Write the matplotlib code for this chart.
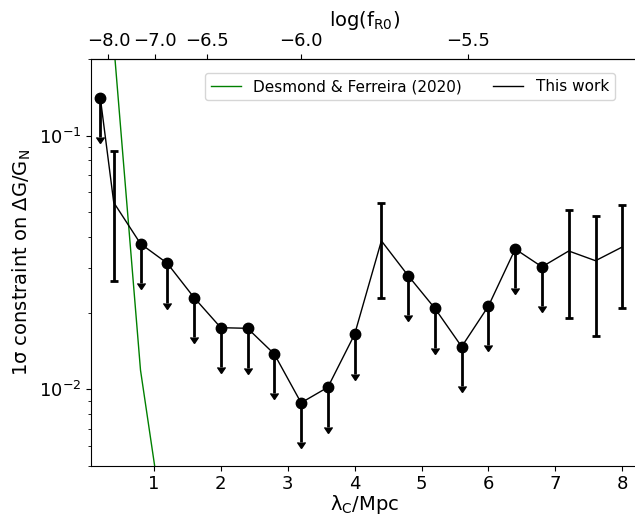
import numpy as np
import matplotlib
matplotlib.use("Agg")
import matplotlib.pyplot as plt
from matplotlib.ticker import FuncFormatter, FixedLocator

# Compton wavelength grid and constraint on dG/G_N
lam = [0.2, 0.4, 0.8, 1.2, 1.6, 2.0, 2.4, 2.8, 3.2, 3.6, 4.0,
       4.4, 4.8, 5.2, 5.6, 6.0, 6.4, 6.8, 7.2, 7.6, 8.0]
dG = [0.1405, 0.0545, 0.0375, 0.0314, 0.0230, 0.0175, 0.0174, 0.01377,
      0.00885, 0.01019, 0.01648, 0.0385, 0.02806, 0.02085, 0.01473,
      0.0213, 0.03573, 0.0304, 0.0351, 0.03214, 0.0364]
# True = only an upper limit, False = a detection with 1 sigma errors
is_limit = [True, False, True, True, True, True, True, True, True, True, True,
            False, True, True, True, True, True, True, False, False, False]
# error bar ends for the detections
det_hi = [0.0870, 0.0543, 0.0511, 0.04826, 0.0532]
det_lo = [0.0267, 0.0230, 0.01915, 0.01618, 0.02092]

# Desmond & Ferreira (2020)
df_lam = [0.4, 0.8, 1.2]
df_dG = [0.23, 0.0119, 0.0023]

top_ticks = [-8.0, -7.0, -6.5, -6.0, -5.5]


def lam_to_logf(l):
    l = np.clip(np.asarray(l, dtype=float), 1e-6, None)
    return 2 * np.log10(l / 32.0) - 4


def logf_to_lam(f):
    return 32.0 * 10 ** ((np.asarray(f, dtype=float) + 4) / 2)


lam = np.array(lam)
dG = np.array(dG)
is_limit = np.array(is_limit)

fig = plt.figure(figsize=(6.35, 5.2), dpi=100)
ax = fig.add_axes([0.1433, 0.1044, 0.863, 0.7816])

ax.plot(df_lam, df_dG, color='green', lw=1, label='Desmond & Ferreira (2020)')
ax.plot(lam, dG, color='k', lw=1, label='This work')

# upper limits: dot with a downward arrow
ax.errorbar(lam[is_limit], dG[is_limit], yerr=0.3 * dG[is_limit], uplims=True,
            fmt='o', color='k', ms=7.5, elinewidth=2, capsize=3)
# detections: plain error bars with caps
det_val = dG[~is_limit]
ax.errorbar(lam[~is_limit], det_val,
            yerr=[det_val - np.array(det_lo), np.array(det_hi) - det_val],
            fmt='none', ecolor='k', elinewidth=2, capsize=3, capthick=2)

ax.set_yscale('log')
ax.set_ylim(0.005, 0.2)
ax.set_xlim(0.06, 8.25)
ax.set_xticks(range(1, 9))
ax.tick_params(labelsize=13)
ax.set_xlabel(r'λ$_{\rm C}$/Mpc', fontsize=14, labelpad=0)
ax.set_ylabel(r'1σ constraint on ΔG/G$_{\rm N}$', fontsize=14)

top = ax.secondary_xaxis('top', functions=(lam_to_logf, logf_to_lam))
top.xaxis.set_major_locator(FixedLocator(top_ticks))
top.xaxis.set_major_formatter(FuncFormatter(lambda v, p: f'{v:.1f}'.replace('-', '\u2212')))
top.tick_params(labelsize=13)
top.set_xlabel(r'log(f$_{\rm R0}$)', fontsize=14)

ax.legend(ncol=2, fontsize=11, loc='upper right', bbox_to_anchor=(0.956, 0.966),
          borderaxespad=0)

fig.savefig('out.png', dpi=100)
